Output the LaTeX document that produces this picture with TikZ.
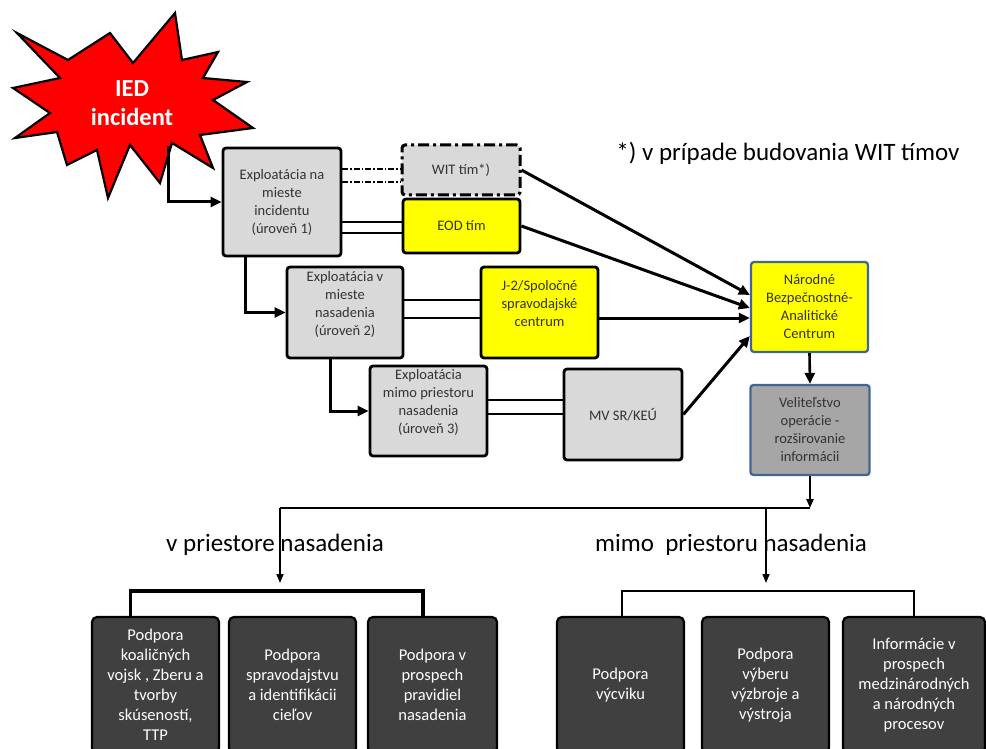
\documentclass[tikz,border=0pt]{standalone}
\usepackage{fontspec}
\setmainfont{Carlito}
\usetikzlibrary{arrows.meta}

\definecolor{boxgray}{HTML}{D9D9D9}
\definecolor{boxyellow}{HTML}{FFFF00}
\definecolor{velgray}{HTML}{A6A6A6}
\definecolor{darkbox}{HTML}{404040}
\definecolor{slateline}{HTML}{41668F}
\definecolor{iedred}{HTML}{FF0000}

\begin{document}
\begin{tikzpicture}[x=1pt,y=-1pt,inner sep=0pt,
  expl/.style={draw,line width=2.8pt,rounded corners=3pt,fill=boxgray,align=center,
    text=black!80,font=\fontsize{14.5}{18}\selectfont},
  team/.style={expl,fill=boxyellow},
  lifted/.style={text depth=19pt},
  centre/.style={expl,draw=slateline,line width=2.3pt},
  support/.style={draw=black,line width=2.2pt,rounded corners=5pt,fill=darkbox,align=center,
    text=white,font=\fontsize{16.5}{20}\selectfont,minimum width=127,minimum height=136},
  arr/.style={line width=3pt,-{Triangle[length=11pt,width=10pt]}},
  thinarr/.style={line width=1.6pt,-{Triangle[length=9pt,width=7pt]}},
  pair/.style={line width=1.5pt},
  dashpair/.style={line width=1.5pt,dash pattern=on 6pt off 2pt on 1.5pt off 2pt},
  branch/.style={font=\fontsize{25}{29}\selectfont}]

\useasboundingbox (0,0) rectangle (986,749);
\clip (0,0) rectangle (986,749);

% incident
\draw[fill=iedred,line width=2.2pt,line join=miter] (17,33) -- (68,60) -- (110,33) -- (133,63)
  -- (175,13) -- (182,60) -- (218,52) -- (203,78) -- (247,82) -- (213,100) -- (253,128)
  -- (200,135) -- (213,168) -- (172,143) -- (160,183) -- (130,145) -- (108,198) -- (97,150)
  -- (67,165) -- (57,132) -- (15,138) -- (50,113) -- (13,88) -- (60,78) -- cycle;
\node[text=white,align=center,font=\fontsize{24.5}{29}\bfseries] (ied) at (132,103) {IED\\incident};
\coordinate (iedfoot) at (168,146);

% levels
\node[expl,minimum width=118,minimum height=108] (expl1) at (282,202)
  {Exploatácia na\\mieste\\incidentu\\(úroveň 1)};
\node[expl,lifted,minimum width=116,minimum height=91] (expl2) at (345,312.5)
  {Exploatácia v\\mieste\\nasadenia\\(úroveň 2)};
\node[expl,lifted,minimum width=117,minimum height=90] (expl3) at (428.5,411)
  {Exploatácia\\mimo priestoru\\nasadenia\\(úroveň 3)};

% teams
\node[expl,line width=3pt,dash pattern=on 11pt off 4pt on 3pt off 4pt,minimum width=118,minimum height=50] (wit) at (461,170) {WIT tím*)};
\node[team,minimum width=117,minimum height=54] (eod) at (461.5,226) {EOD tím};
\node[team,lifted,minimum width=117,minimum height=91] (jtwo) at (539.5,312.5)
  {J-2/Spoločné\\spravodajské\\centrum};
\node[expl,minimum width=118,minimum height=91] (mvsr) at (623,414.5) {MV SR/KEÚ};

% centre
\node[centre,fill=boxyellow,minimum width=117,minimum height=90] (nbac) at (809.5,307)
  {Národné\\Bezpečnostné-\\Analitické\\Centrum};
\node[centre,fill=velgray,minimum width=119,minimum height=90] (vel) at (810,430)
  {Veliteľstvo\\operácie -\\rozširovanie\\informácii};

\node[font=\fontsize{25}{29}\selectfont] (note) at (788,153) {*) v prípade budovania WIT tímov};

% flow
\draw[arr] (iedfoot) |- (expl1.west);
\draw[arr] ([xshift=24pt]expl1.south west) |- (expl2.west);
\draw[arr] ([xshift=45pt]expl2.south west) |- (expl3.west);

\coordinate (w1) at ([yshift=1pt]wit.west);
\coordinate (w2) at ([yshift=-12pt]wit.west);
\draw[dashpair] (expl1.east |- w1) -- (w1);
\draw[dashpair] (expl1.east |- w2) -- (w2);
\coordinate (e1) at ([yshift=4pt]eod.west);
\coordinate (e2) at ([yshift=-7pt]eod.west);
\draw[pair] (expl1.east |- e1) -- (e1);
\draw[pair] (expl1.east |- e2) -- (e2);
\coordinate (j1) at ([yshift=12.5pt]jtwo.west);
\coordinate (j2) at ([yshift=-5.5pt]jtwo.west);
\draw[pair] (expl2.east |- j1) -- (j1);
\draw[pair] (expl2.east |- j2) -- (j2);
\coordinate (m1) at ([yshift=14.5pt]mvsr.west);
\coordinate (m2) at ([yshift=0.5pt]mvsr.west);
\draw[pair] (expl3.east |- m1) -- (m1);
\draw[pair] (expl3.east |- m2) -- (m2);

\draw[arr] (wit.east) -- ([yshift=12pt]nbac.west);
\draw[arr] (eod.east) -- ([yshift=-1pt]nbac.west);
\draw[arr] ([yshift=-5.5pt]jtwo.east) -- ([yshift=-11pt]nbac.west);
\draw[arr] (mvsr.east) -- ([yshift=-29pt]nbac.west);
\draw[arr,line width=2.6pt] (nbac.south) -- (vel.south |- vel.north);

% distribution
\coordinate (split) at (810,508);
\coordinate (lsplit) at (280,508);
\coordinate (rsplit) at (766,508);
\draw[thinarr,line width=2.2pt] (vel.south) -- (split);
\draw[line width=1.6pt] (lsplit) -- (split);
\draw[thinarr] (lsplit) -- ++(0,75);
\draw[thinarr] (rsplit) -- ++(0,75);

\node[branch] (inside) at (275,545) {v priestore nasadenia};
\node[branch] (outside) at (731,545) {mimo\ \ priestoru nasadenia};

\node[support] (sup1) at (155.5,685) {Podpora\\koaličných\\vojsk , Zberu a\\tvorby\\skúseností,\\TTP};
\node[support] (sup2) at (292.5,685) {Podpora\\spravodajstvu\\a identifikácii\\cieľov};
\node[support,minimum width=129] (sup3) at (432.5,685) {Podpora v\\prospech\\pravidiel\\nasadenia};
\node[support] (sup4) at (620.5,685) {Podpora\\výcviku};
\node[support] (sup5) at (765.5,685) {Podpora\\výberu\\výzbroje a\\výstroja};
\node[support,minimum width=142] (sup6) at (914,685) {Informácie v\\prospech\\medzinárodných\\a národných\\procesov};

\draw[line width=3.4pt] ([xshift=-25pt]sup1.north) -- ++(0,-25) -| ([xshift=-9.5pt]sup3.north);
\draw[line width=1.7pt] ([xshift=1.5pt]sup4.north) -- ++(0,-25) -| (sup6.north);

\end{tikzpicture}
\end{document}
